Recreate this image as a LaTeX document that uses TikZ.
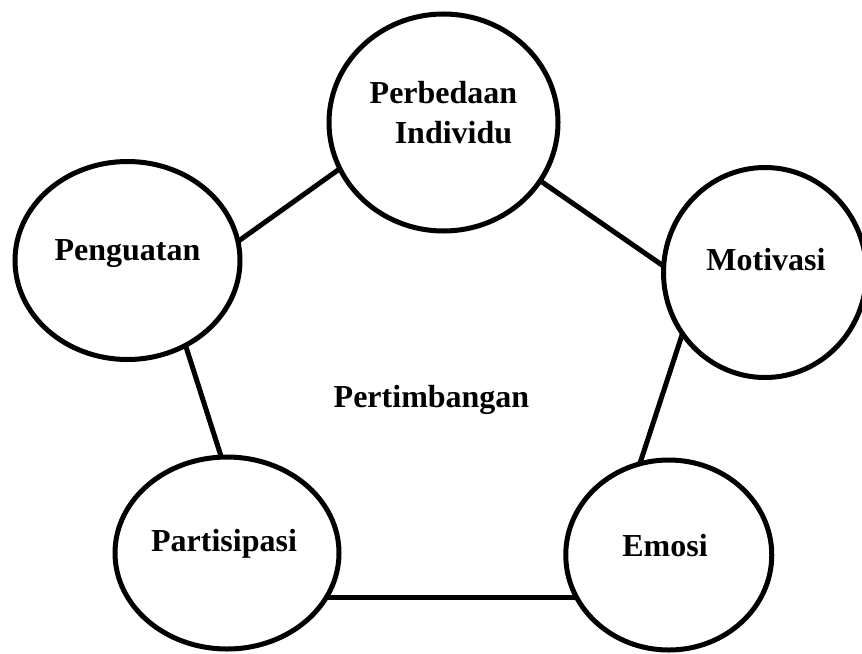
\documentclass[tikz,border=0pt]{standalone}
\usepackage{fontspec}
\setmainfont{Liberation Serif}
\usetikzlibrary{shapes.geometric,calc,backgrounds}
\begin{document}
\begin{tikzpicture}[x=0.75pt,y=-0.75pt,
  bub/.style={ellipse,draw=black,fill=white,line width=3.75pt,inner sep=0pt,outer sep=0pt},
  lbl/.style={anchor=base,font=\bfseries\fontsize{24}{30}\selectfont,inner sep=0pt},
  conn/.style={draw=black,line width=3.75pt}]
\useasboundingbox (0,0) rectangle (862,653);
% bubbles
\node[bub,minimum width=171.75pt,minimum height=162.75pt] (P) at (443.5,122.5) {};
\node[bub,minimum width=168.75pt,minimum height=148.5pt] (G) at (127.5,260.5) {};
\node[bub,minimum width=152.25pt,minimum height=157.5pt] (M) at (765,272.5) {};
\node[bub,minimum width=168pt,minimum height=144pt] (A) at (227,553) {};
\node[bub,minimum width=154.5pt,minimum height=142.5pt] (E) at (668.75,555) {};
% labels
\node[lbl] (tP1) at (443.5,103) {Perbedaan};
\node[lbl] (tP2) at (453.5,143) {Individu};
\node[lbl] (tG) at (127.5,260) {Penguatan};
\node[lbl] (tM) at (766,270) {Motivasi};
\node[lbl] (tA) at (224,551) {Partisipasi};
\node[lbl] (tE) at (665,556) {Emosi};
\node[lbl] (tC) at (431.5,407) {Pertimbangan};
% connector ends
\coordinate (pg1) at (338,170); \coordinate (pg2) at (240,240);
\coordinate (pm1) at (542,182); \coordinate (pm2) at (662,265);
\coordinate (me1) at (682,335); \coordinate (me2) at (642,457);
\coordinate (ea1) at (569,597); \coordinate (ea2) at (331,597);
\coordinate (ag1) at (220,453); \coordinate (ag2) at (187,350);
\begin{scope}[on background layer]
\draw[conn] ($(pg1)!-0.15!(pg2)$) -- ($(pg2)!-0.15!(pg1)$);
\draw[conn] ($(pm1)!-0.15!(pm2)$) -- ($(pm2)!-0.15!(pm1)$);
\draw[conn] ($(me1)!-0.15!(me2)$) -- ($(me2)!-0.15!(me1)$);
\draw[conn] ($(ea1)!-0.1!(ea2)$) -- ($(ea2)!-0.1!(ea1)$);
\draw[conn] ($(ag1)!-0.15!(ag2)$) -- ($(ag2)!-0.15!(ag1)$);
\end{scope}
\end{tikzpicture}
\end{document}
